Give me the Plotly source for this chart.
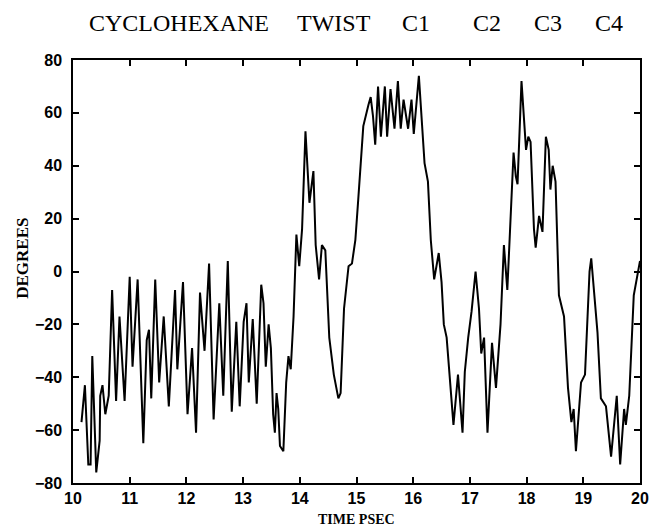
import plotly.graph_objects as go

time_ps = [
    10.15, 10.21, 10.27, 10.31, 10.34, 10.41, 10.47, 10.48, 10.52, 10.57,
    10.63, 10.69, 10.76, 10.82, 10.91, 11.00, 11.05, 11.14, 11.24, 11.30,
    11.34, 11.38, 11.45, 11.52, 11.60, 11.69, 11.80, 11.84, 11.94, 12.02,
    12.10, 12.17, 12.24, 12.32, 12.40, 12.48, 12.58, 12.65, 12.73, 12.80,
    12.88, 12.94, 13.01, 13.06, 13.10, 13.17, 13.24, 13.32, 13.36, 13.40,
    13.45, 13.49, 13.53, 13.56, 13.59, 13.62, 13.65, 13.71, 13.76, 13.80,
    13.84, 13.89, 13.94, 13.99, 14.04, 14.10, 14.17, 14.24, 14.28, 14.34,
    14.39, 14.45, 14.52, 14.60, 14.68, 14.72, 14.78, 14.86, 14.92, 14.98,
    15.03, 15.12, 15.21, 15.25, 15.29, 15.33, 15.38, 15.43, 15.50, 15.54,
    15.60, 15.67, 15.73, 15.78, 15.83, 15.91, 15.97, 16.01, 16.10, 16.16,
    16.20, 16.26, 16.31, 16.37, 16.45, 16.50, 16.54, 16.59, 16.65, 16.71,
    16.79, 16.87, 16.91, 16.97, 17.03, 17.10, 17.16, 17.20, 17.25, 17.31,
    17.39, 17.46, 17.54, 17.60, 17.66, 17.71, 17.77, 17.81, 17.84, 17.91,
    17.99, 18.03, 18.07, 18.13, 18.16, 18.22, 18.28, 18.34, 18.39, 18.42,
    18.46, 18.51, 18.57, 18.66, 18.73, 18.79, 18.83, 18.87, 18.96, 19.03,
    19.11, 19.14, 19.20, 19.25, 19.31, 19.40, 19.49, 19.59, 19.65, 19.72,
    19.75, 19.81, 19.89, 19.95, 20.00,
]

degrees = [
    -57, -43, -73, -73, -32, -76, -64, -47, -43, -54,
    -47, -7, -49, -17, -49, -2, -36, -3, -65, -26,
    -22, -48, -3, -42, -17, -51, -7, -37, -4, -54,
    -29, -61, -8, -30, 3, -56, -12, -47, 4, -53,
    -19, -51, -19, -12, -42, -18, -50, -5, -12, -36,
    -20, -29, -54, -61, -46, -52, -66, -68, -42, -32,
    -37, -17, 14, 2, 16, 53, 26, 38, 10, -3,
    10, 8, -25, -39, -48, -46, -14, 2, 3, 12,
    27, 55, 63, 66, 59, 48, 70, 51, 70, 51,
    69, 54, 72, 54, 65, 54, 65, 52, 74, 55,
    41, 34, 12, -3, 7, -4, -20, -25, -42, -58,
    -39, -61, -38, -25, -15, 0, -14, -31, -25, -61,
    -27, -44, -20, 10, -7, 16, 45, 36, 33, 72,
    46, 51, 49, 16, 9, 21, 15, 51, 46, 31,
    40, 34, -9, -17, -44, -57, -52, -68, -42, -39,
    0, 5, -12, -23, -48, -51, -70, -47, -73, -52,
    -58, -47, -9, -2, 4,
]

x_ticks = [10, 11, 12, 13, 14, 15, 16, 17, 18, 19, 20]
y_ticks = [-80, -60, -40, -20, 0, 20, 40, 60, 80]

title_words = ["CYCLOHEXANE", "TWIST", "C1", "C2", "C3", "C4"]
title_word_px = [181, 338, 421, 494, 556, 618]

fig = go.Figure()
fig.add_trace(go.Scatter(
    x=time_ps, y=degrees, mode="lines",
    line=dict(color="black", width=2),
    showlegend=False, hoverinfo="skip",
))

tick_font = dict(family="Liberation Sans", size=16, color="black", weight="bold")

PL, PR, PT, PB = 73, 649, 60, 483

annotations = []
for w, px in zip(title_words, title_word_px):
    annotations.append(dict(
        text=w, xref="paper", yref="paper",
        x=(px - PL) / (PR - PL), y=1 + (PT - 23) / (PB - PT),
        xanchor="center", yanchor="middle", showarrow=False,
        font=dict(family="Liberation Serif", size=24, color="black"),
    ))
annotations.append(dict(
    text="TIME PSEC", xref="paper", yref="paper",
    x=(361 - PL) / (PR - PL), y=-(519 - PB) / (PB - PT),
    xanchor="center", yanchor="middle", showarrow=False,
    font=dict(family="Liberation Serif", size=14, color="black", weight="bold"),
))
annotations.append(dict(
    text="DEGREES", xref="paper", yref="paper",
    x=-(PL - 21) / (PR - PL), y=(PB - 258) / (PB - PT),
    xanchor="center", yanchor="middle", textangle=-90, showarrow=False,
    font=dict(family="Liberation Serif", size=17, color="black", weight="bold"),
))

fig.update_layout(
    width=660, height=529,
    margin=dict(l=PL, r=660 - PR, t=PT, b=529 - PB),
    paper_bgcolor="white", plot_bgcolor="white",
    xaxis=dict(
        range=[10, 20], tickvals=x_ticks, ticktext=[str(v) for v in x_ticks],
        showgrid=False, zeroline=False,
        showline=True, linecolor="black", linewidth=1.5, mirror="ticks",
        ticks="inside", ticklen=6, tickwidth=1.5, tickcolor="black",
        tickfont=tick_font,
    ),
    yaxis=dict(
        range=[-80, 80], tickvals=y_ticks,
        ticktext=[("\u2212" + str(-v)) if v < 0 else str(v) for v in y_ticks],
        showgrid=False, zeroline=False,
        showline=True, linecolor="black", linewidth=1.5, mirror="ticks",
        ticks="inside", ticklen=6, tickwidth=1.5, tickcolor="black",
        tickfont=tick_font, ticklabelstandoff=6,
    ),
    annotations=annotations,
)

fig.write_html(
    "out.html",
    config={"displayModeBar": False},
    post_script="document.body.style.margin='0';document.body.style.padding='0';",
)
